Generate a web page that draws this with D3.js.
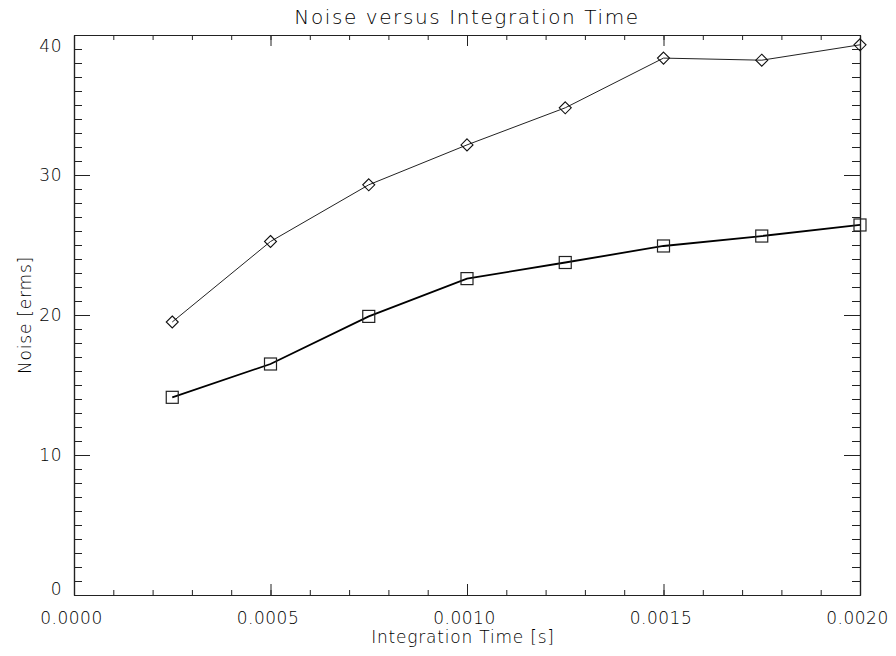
<!DOCTYPE html>
<html>
<head>
<meta charset="utf-8">
<script src="https://cdn.jsdelivr.net/npm/d3@7"></script>
<style>
  body { margin: 0; background: #fff; }
  svg text { font-family: "DejaVu Sans", sans-serif; font-weight: 200; fill: #000; }
</style>
</head>
<body>
<div id="chart"></div>
<script>
const times = [0.00025, 0.0005, 0.00075, 0.001, 0.00125, 0.0015, 0.00175, 0.002];
const noise_diamond = [19.5, 25.25, 29.3, 32.15, 34.8, 38.35, 38.2, 39.3];
const noise_square = [14.12, 16.5, 19.9, 22.6, 23.75, 24.93, 25.64, 26.43];

const x_ticks = [0, 0.0005, 0.001, 0.0015, 0.002];
const y_ticks = [0, 10, 20, 30, 40];

const width = 896;
const height = 656;
const margin = { top: 35, right: 36, bottom: 61, left: 74 };
const plot_w = width - margin.left - margin.right;
const plot_h = height - margin.top - margin.bottom;

const svg = d3.select('#chart')
    .append('svg')
    .attr('width', width)
    .attr('height', height);

const g = svg.append('g')
    .attr('transform', `translate(${margin.left},${margin.top})`);

// Scales
const x_scale = d3.scaleLinear().domain([0, 0.002]).range([0, plot_w]);
const y_scale = d3.scaleLinear().domain([0, 40]).range([plot_h, 0]);

const x_minor = d3.range(0, 21).map(i => i * 0.0001);
const y_minor = d3.range(0, 41);

function style_axis(sel) {
    sel.select('.domain').attr('stroke', '#222').attr('stroke-width', 1.2);
    sel.selectAll('.tick line').attr('stroke', '#222').attr('stroke-width', 1);
}

// Minor ticks (all four sides)
g.append('g').attr('transform', `translate(0,${plot_h})`)
    .call(d3.axisBottom(x_scale).tickValues(x_minor).tickSizeInner(-5).tickSizeOuter(0).tickFormat(''))
    .call(style_axis);
g.append('g')
    .call(d3.axisTop(x_scale).tickValues(x_minor).tickSizeInner(-5).tickSizeOuter(0).tickFormat(''))
    .call(style_axis);
g.append('g')
    .call(d3.axisLeft(y_scale).tickValues(y_minor).tickSizeInner(-8).tickSizeOuter(0).tickFormat(''))
    .call(style_axis);
g.append('g').attr('transform', `translate(${plot_w},0)`)
    .call(d3.axisRight(y_scale).tickValues(y_minor).tickSizeInner(-8).tickSizeOuter(0).tickFormat(''))
    .call(style_axis);

// Major ticks
const x_axis = g.append('g').attr('transform', `translate(0,${plot_h})`)
    .call(d3.axisBottom(x_scale).tickValues(x_ticks).tickSizeInner(-11).tickSizeOuter(0)
        .tickPadding(17).tickFormat(d3.format('.4f')))
    .call(style_axis);
x_axis.selectAll('text')
    .attr('font-size', 17)
    .attr('font-family', null)
    .attr('fill', null)
    .attr('letter-spacing', 0.5)
    .attr('dx', -3);

g.append('g')
    .call(d3.axisTop(x_scale).tickValues(x_ticks).tickSizeInner(-11).tickSizeOuter(0).tickFormat(''))
    .call(style_axis);

const y_axis = g.append('g')
    .call(d3.axisLeft(y_scale).tickValues(y_ticks).tickSizeInner(-16).tickSizeOuter(0).tickPadding(12))
    .call(style_axis);
y_axis.selectAll('text')
    .attr('font-size', 17)
    .attr('font-family', null)
    .attr('fill', null)
    .attr('letter-spacing', 0.5)
    .attr('dy', d => d === 40 ? '0.95em' : d === 0 ? '-0.05em' : '0.32em');

g.append('g').attr('transform', `translate(${plot_w},0)`)
    .call(d3.axisRight(y_scale).tickValues(y_ticks).tickSizeInner(-16).tickSizeOuter(0).tickFormat(''))
    .call(style_axis);

// Lines
const line = d3.line()
    .x((d, i) => x_scale(times[i]))
    .y(d => y_scale(d));

g.append('path')
    .datum(noise_diamond)
    .attr('d', line)
    .attr('fill', 'none')
    .attr('stroke', '#222')
    .attr('stroke-width', 1);

g.append('path')
    .datum(noise_square)
    .attr('d', line)
    .attr('fill', 'none')
    .attr('stroke', '#000')
    .attr('stroke-width', 1.8);

// Markers
g.selectAll('.diamond')
    .data(noise_diamond)
    .enter()
    .append('path')
    .attr('class', 'diamond')
    .attr('d', 'M0,-6L6,0L0,6L-6,0Z')
    .attr('transform', (d, i) => `translate(${x_scale(times[i])},${y_scale(d)})`)
    .attr('fill', 'none')
    .attr('stroke', '#111')
    .attr('stroke-width', 1.1);

g.selectAll('.square')
    .data(noise_square)
    .enter()
    .append('rect')
    .attr('class', 'square')
    .attr('x', (d, i) => x_scale(times[i]) - 6)
    .attr('y', d => y_scale(d) - 6)
    .attr('width', 12)
    .attr('height', 12)
    .attr('fill', 'none')
    .attr('stroke', '#222')
    .attr('stroke-width', 1.2);

// Titles
svg.append('text')
    .text('Noise versus Integration Time')
    .attr('x', margin.left + plot_w / 2)
    .attr('y', 24)
    .attr('text-anchor', 'middle')
    .attr('font-size', 20)
    .attr('letter-spacing', 1.6);

svg.append('text')
    .text('Integration Time [s]')
    .attr('x', margin.left + plot_w / 2 - 4)
    .attr('y', 643)
    .attr('text-anchor', 'middle')
    .attr('font-size', 17)
    .attr('letter-spacing', 0.8);

svg.append('text')
    .text('Noise [erms]')
    .attr('transform', `translate(31,${margin.top + plot_h / 2}) rotate(-90)`)
    .attr('text-anchor', 'middle')
    .attr('font-size', 17)
    .attr('letter-spacing', 0.8);
</script>
</body>
</html>
